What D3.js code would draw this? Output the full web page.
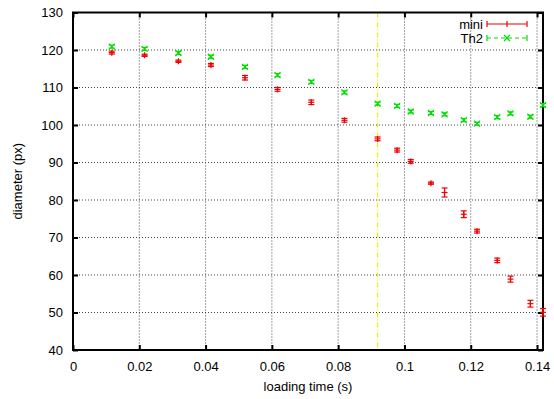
<!DOCTYPE html>
<html><head><meta charset="utf-8">
<script src="https://cdn.jsdelivr.net/npm/d3@7"></script>
<style>body{margin:0;background:#fff}svg{display:block}text{font-family:"Liberation Sans",Arial,sans-serif;font-size:13px;fill:#000}</style>
</head><body><svg id="c" width="554" height="399"></svg>
<script>
const times = [0.0117,0.0216,0.0318,0.0416,0.0519,0.0617,0.0719,0.0819,0.0919,0.0978,0.1019,0.1080,0.1121,0.1179,0.1219,0.1280,0.1320,0.1380,0.1418];
const miniVals = [119.3,118.6,117.0,116.0,112.6,109.5,106.05,101.25,96.3,93.3,90.3,84.5,82.0,76.2,71.7,63.9,58.9,52.35,50.05];
const miniErr  = [0.4,0.3,0.3,0.4,0.6,0.5,0.6,0.5,0.5,0.5,0.5,0.3,1.2,0.9,0.5,0.6,0.8,0.9,1.0];
const th2Vals  = [120.9,120.3,119.2,118.2,115.5,113.3,111.5,108.7,105.7,105.1,103.6,103.2,102.85,101.3,100.35,102.1,103.1,102.2,105.3];
const th2Err   = [0.4,0.4,0.4,0.4,0.4,0.4,0.4,0.4,0.4,0.4,0.4,0.4,0.4,0.4,0.4,0.4,0.4,0.4,0.4];
const xTicks = [0,0.02,0.04,0.06,0.08,0.1,0.12,0.14];
const yTicks = [40,50,60,70,80,90,100,110,120,130];
const markerTime = 0.0919;
const seriesNames = ["mini","Th2"];

const L=73,R=543,T=12.5,B=350;
const svg=d3.select("#c");
const x=d3.scaleLinear().domain([0,0.1418]).range([L,R]);
const y=d3.scaleLinear().domain([40,130]).range([B,T]);

// grid
const g=svg.append("g");
xTicks.slice(1).forEach(t=>{ if(x(t)<R-2) g.append("line").attr("x1",x(t)).attr("x2",x(t)).attr("y1",T).attr("y2",B).attr("stroke","#444").attr("stroke-width",1).attr("stroke-dasharray","1,2");});
yTicks.slice(1,-1).forEach(t=>g.append("line").attr("x1",L).attr("x2",R).attr("y1",y(t)).attr("y2",y(t)).attr("stroke","#444").attr("stroke-width",1).attr("stroke-dasharray","1,2"));

// yellow marker line
svg.append("line").attr("x1",x(markerTime)).attr("x2",x(markerTime)).attr("y1",T).attr("y2",B)
  .attr("stroke","#f2f200").attr("stroke-width",1.2).attr("stroke-dasharray","5,2,1,2");

// axes
const xa=svg.append("g").attr("transform",`translate(0,${B})`).call(d3.axisBottom(x).tickValues(xTicks).tickFormat(d=>d===0?"0":d3.format("")(+d.toFixed(2))).tickSize(-5).tickPadding(12));
const xt=svg.append("g").attr("transform",`translate(0,${T})`).call(d3.axisTop(x).tickValues(xTicks).tickFormat("").tickSize(-5));
const ya=svg.append("g").attr("transform",`translate(${L},0)`).call(d3.axisLeft(y).tickValues(yTicks).tickSize(-5).tickPadding(10));
const yr=svg.append("g").attr("transform",`translate(${R},0)`).call(d3.axisRight(y).tickValues(yTicks).tickFormat("").tickSize(-5));
[xa,xt,ya,yr].forEach(a=>{a.select(".domain").remove();a.selectAll("line").attr("stroke","#000").attr("stroke-width",2);a.selectAll("text").style("font-size","13px").attr("fill","#000").style("font-family","Liberation Sans, Arial, sans-serif");});
svg.append("rect").attr("x",L).attr("y",T).attr("width",R-L).attr("height",B-T).attr("fill","none").attr("stroke","#000").attr("stroke-width",2);

// data
function drawSeries(vals,errs,color,shape){
  const gg=svg.append("g").attr("stroke",color).attr("stroke-width",1.2);
  vals.forEach((v,i)=>{
    const cx=x(times[i]), y1=y(v+errs[i]), y2=y(v-errs[i]), cy=y(v);
    gg.append("line").attr("x1",cx).attr("x2",cx).attr("y1",y1).attr("y2",y2);
    gg.append("line").attr("x1",cx-3).attr("x2",cx+3).attr("y1",y1).attr("y2",y1);
    gg.append("line").attr("x1",cx-3).attr("x2",cx+3).attr("y1",y2).attr("y2",y2);
    if(shape==="plus"){
      gg.append("line").attr("x1",cx-3).attr("x2",cx+3).attr("y1",cy).attr("y2",cy);
      gg.append("line").attr("x1",cx).attr("x2",cx).attr("y1",cy-3).attr("y2",cy+3);
    } else {
      gg.append("line").attr("x1",cx-3).attr("x2",cx+3).attr("y1",cy-3).attr("y2",cy+3);
      gg.append("line").attr("x1",cx-3).attr("x2",cx+3).attr("y1",cy+3).attr("y2",cy-3);
    }
  });
}
drawSeries(th2Vals,th2Err,"#00e000","x");
drawSeries(miniVals,miniErr,"#f00000","plus");

// legend
const lg=svg.append("g");
[[seriesNames[0],"#f00000",24,"plus",null],[seriesNames[1],"#00e000",38,"x","4,3"]].forEach(([n,c,yy,sh,da])=>{
  lg.append("text").attr("x",483).attr("y",yy+4.5).attr("text-anchor","end").text(n);
  const s=lg.append("g").attr("stroke",c).attr("stroke-width",1.2);
  s.append("line").attr("x1",487).attr("x2",527).attr("y1",yy).attr("y2",yy).attr("stroke-dasharray",da);
  s.append("line").attr("x1",487).attr("x2",487).attr("y1",yy-3).attr("y2",yy+3);
  s.append("line").attr("x1",527).attr("x2",527).attr("y1",yy-3).attr("y2",yy+3);
  const cx=507;
  if(sh==="plus"){s.append("line").attr("x1",cx).attr("x2",cx).attr("y1",yy-3).attr("y2",yy+3);}
  else{s.append("line").attr("x1",cx-3).attr("x2",cx+3).attr("y1",yy-3).attr("y2",yy+3);s.append("line").attr("x1",cx-3).attr("x2",cx+3).attr("y1",yy+3).attr("y2",yy-3);}
});

// labels
svg.append("text").attr("x",(L+R)/2).attr("y",391).attr("text-anchor","middle").text("loading time (s)");
svg.append("text").attr("transform",`translate(22,${(T+B)/2}) rotate(-90)`).attr("text-anchor","middle").text("diameter (px)");
</script></body></html>
